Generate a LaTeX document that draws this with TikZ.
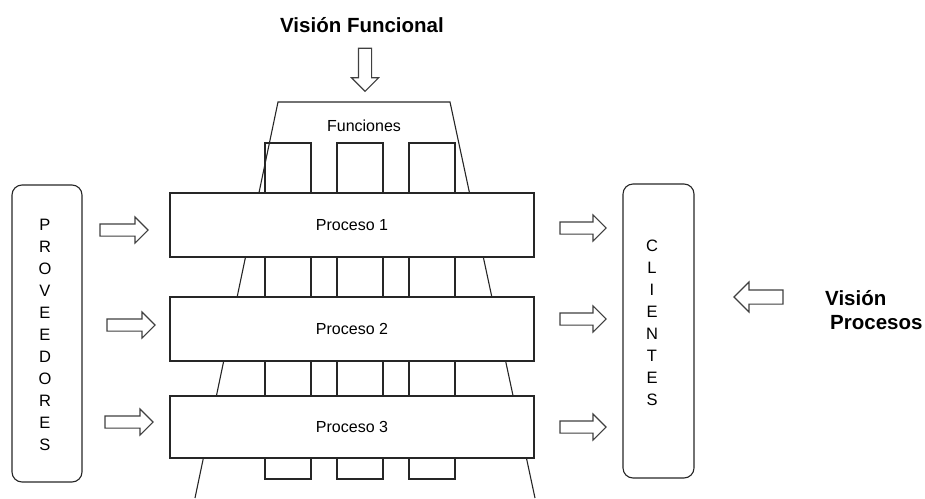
\documentclass[tikz,border=0pt]{standalone}
\usepackage{fontspec}
\setmainfont{Liberation Sans}
\usetikzlibrary{shapes.arrows}
\tikzset{
  ln/.style={draw=black!85, line width=1.1pt},
  procbox/.style={ln, fill=white},
  colbox/.style={ln},
  rbox/.style={ln, rounded corners=10pt},
  barrow/.style={shape=single arrow, draw=black!75, line width=1.1pt, fill=white,
    inner xsep=0pt, inner ysep=5.5pt, single arrow head extend=7pt, minimum height=48pt},
  lbl/.style={font=\fontsize{16}{22}\selectfont, inner sep=0pt},
  vlbl/.style={font=\fontsize{16.5}{22}\selectfont, align=center, inner sep=0pt},
  ttl/.style={font=\bfseries\fontsize{20.5}{24}\selectfont, inner sep=0pt},
}
\begin{document}
\begin{tikzpicture}[x=1pt,y=-1pt]
\useasboundingbox (0,0) rectangle (925,498);
% trapezoid (Funciones)
\coordinate (tl) at (278,102);
\coordinate (tr) at (450,102);
\coordinate (bl) at (195,498);
\coordinate (br) at (535,498);
\draw[ln] (bl) -- (tl) -- (tr) -- (br);
\node[lbl] (fun) at (364,126) {Funciones};
% function columns
\draw[colbox] (265,143) rectangle (311,479);
\draw[colbox] (337,143) rectangle (383,479);
\draw[colbox] (409,143) rectangle (455,479);
% processes
\node[procbox, minimum width=364pt, minimum height=64pt, inner sep=0pt, lbl] (p1) at (352,225) {Proceso 1};
\node[procbox, minimum width=364pt, minimum height=64pt, inner sep=0pt, lbl] (p2) at (352,329) {Proceso 2};
\node[procbox, minimum width=364pt, minimum height=62pt, inner sep=0pt, lbl] (p3) at (352,427) {Proceso 3};
% suppliers / clients
\node[rbox, minimum width=70pt, minimum height=297pt, inner sep=0pt] (prov) at (47,333.5) {};
\node[vlbl] (provt) at (45,335) {P\\R\\O\\V\\E\\E\\D\\O\\R\\E\\S};
\node[rbox, minimum width=71pt, minimum height=294pt, inner sep=0pt] (cli) at (658.5,331) {};
\node[vlbl] (clit) at (652,323) {C\\L\\I\\E\\N\\T\\E\\S};
% block arrows
\node[barrow] (a1) at (121,230) {};
\node[barrow] (a2) at (128,325) {};
\node[barrow] (a3) at (126,422) {};
\node[barrow, minimum height=46pt] (b1) at (580,228) {};
\node[barrow, minimum height=46pt] (b2) at (580,319) {};
\node[barrow, minimum height=46pt] (b3) at (580,427) {};
\node[barrow, minimum height=43pt, inner ysep=6pt, rotate=-90] (vf) at (365,66.5) {};
\node[barrow, minimum height=49pt, inner ysep=6.5pt, single arrow head extend=8pt, rotate=180] (vp) at (762,297) {};
% titles
\node[ttl] (tfun) at (362,25) {Visión Funcional};
\node[ttl, anchor=west] (tvis) at (825,298) {Visión};
\node[ttl, anchor=west] (tpro) at (830,323) {Procesos};
\end{tikzpicture}
\end{document}
